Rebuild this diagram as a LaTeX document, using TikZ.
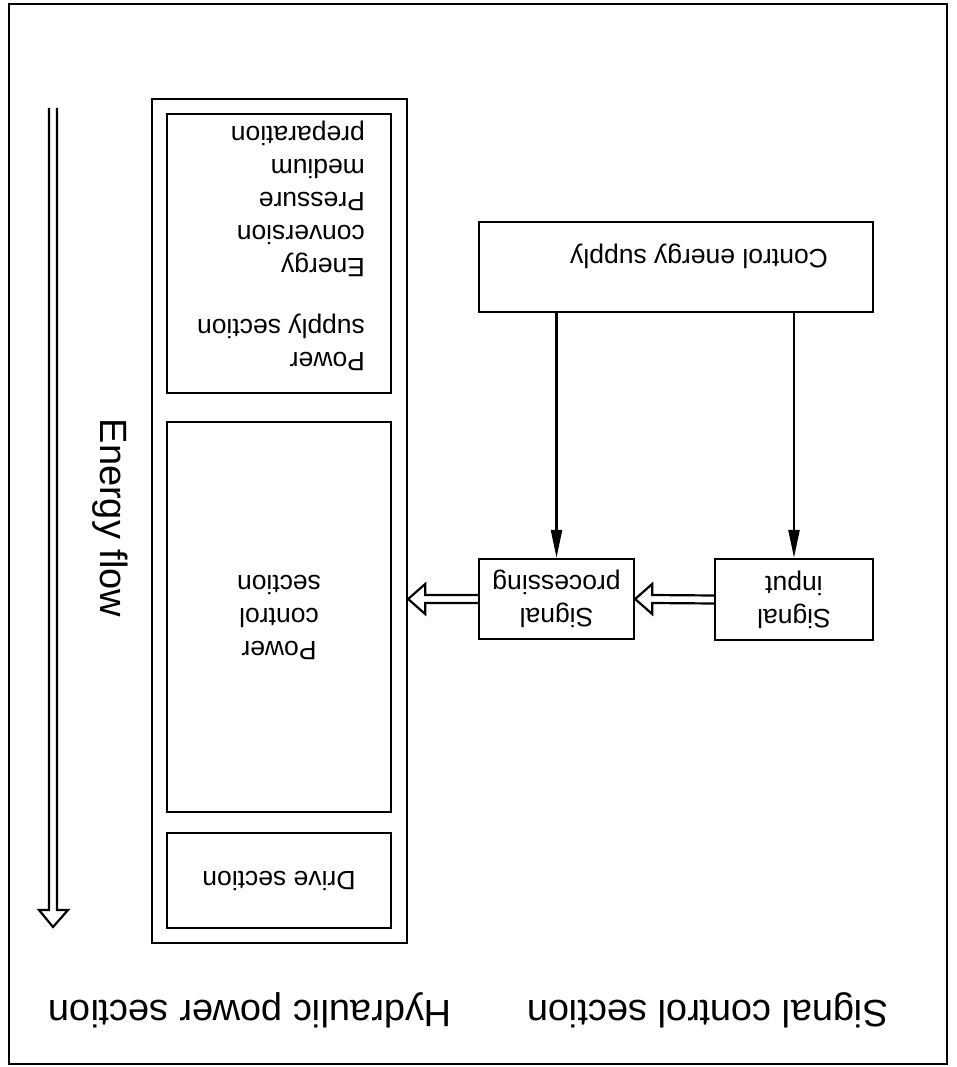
\documentclass[tikz,border=0pt]{standalone}
\usepackage{fontspec}
\setmainfont{Liberation Sans}
\usetikzlibrary{arrows.meta,calc}
\begin{document}
\begin{tikzpicture}[x=1pt,y=-1pt,
  blk/.style={draw, line width=2.3pt, rectangle, inner sep=0pt},
  small/.style={font=\fontsize{26.5}{33}\selectfont},
  big/.style={font=\fontsize{38}{44}\selectfont},
  thin/.style={line width=2.2pt},
  hollow/.style={line width=2.2pt, line join=miter},
  tip/.style={-{Triangle[length=28pt,width=11pt]}}
]
\useasboundingbox (0,0) rectangle (957,1067);
% outer frame
\node[blk, line width=2.6pt, minimum width=938pt, minimum height=1060pt] (frame) at (478,534) {};
% hydraulic power section
\node[blk, minimum width=255pt, minimum height=844pt] (hyd) at (279.5,521) {};
\node[blk, minimum width=224pt, minimum height=279pt] (pss) at (279,253.5) {};
\node[small, rotate=180, align=left, inner sep=0pt] (psstext) at (281,246)
  {Power\\supply section\\[28pt]Energy\\conversion\\Pressure\\medium\\preparation};
\node[blk, small, rotate=180, align=center, minimum width=224pt, minimum height=390pt] (pcs) at (279,617)
  {Power\\control\\section};
\node[blk, small, rotate=180, minimum width=224pt, minimum height=95pt] (drv) at (279,880.5) {Drive section};
% signal control section
\node[blk, minimum width=394pt, minimum height=90pt] (ces) at (676,267) {};
\node[small, rotate=180] (cestext) at (699,256) {Control energy supply};
% rotated nodes: .south is the top edge in the picture, .west the right edge
\node[blk, small, rotate=180, align=center, minimum width=155pt, minimum height=80pt] (sp) at (556.5,599)
  {Signal\\processing};
\node[blk, small, rotate=180, align=center, minimum width=158pt, minimum height=81pt] (si) at (794,599.5)
  {Signal\\input};
% control arrows
\draw[thin, tip] (ces.south -| sp.south) -- (sp.south);
\draw[thin, tip] (ces.south -| si.south) -- (si.south);
% hollow arrows
\coordinate (spr) at (sp.west);
\coordinate (spl) at (sp.east);
\coordinate (sil) at (si.east);
\draw[hollow] ($(sil)+(0,-4)$) -- ($(spr)+(17,-4)$) -- ($(spr)+(17,-15)$) -- (spr)
  -- ($(spr)+(17,15)$) -- ($(spr)+(17,4)$) -- ($(sil)+(0,4)$);
\coordinate (hp) at (hyd.east |- spl);
\draw[hollow] ($(spl)+(0,-4)$) -- ($(hp)+(17,-4)$) -- ($(hp)+(17,-15)$) -- (hp)
  -- ($(hp)+(17,15)$) -- ($(hp)+(17,4)$) -- ($(spl)+(0,4)$);
% energy flow arrow
\coordinate (ef1) at (49,108);
\coordinate (ef2) at (57,108);
\coordinate (eftip) at (53,927);
\draw[hollow] (ef1) -- (ef1 |- 0,910) -- (39,910) -- (eftip) -- (68,910) -- (ef2 |- 0,910) -- (ef2);
\node[big, rotate=-90] (eflabel) at (110,518) {Energy flow};
% section titles
\node[big, rotate=180] (hydtitle) at (250,1010) {Hydraulic power section};
\node[big, rotate=180] (sigtitle) at (707.5,1010) {Signal control section};
\end{tikzpicture}
\end{document}
